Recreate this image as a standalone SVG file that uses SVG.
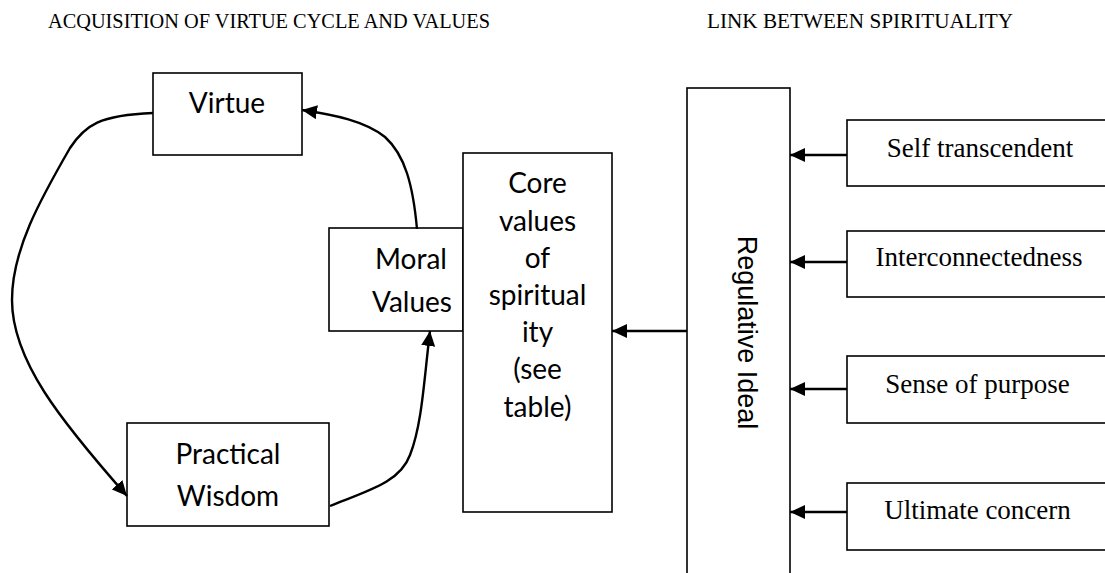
<svg xmlns="http://www.w3.org/2000/svg" width="1105" height="573" viewBox="0 0 1105 573">
<style>
.box{fill:#fff;stroke:#000;stroke-width:1.6}
.cal{font-family:Lato,"Open Sans",sans-serif;font-size:28px;fill:#000;text-anchor:middle}
.tnr{font-family:"Liberation Serif","Times New Roman",serif;font-size:27px;fill:#000;text-anchor:middle}
.title{font-family:"Liberation Serif","Times New Roman",serif;font-size:22px;fill:#000}
.conn{fill:none;stroke:#000;stroke-width:2.4}
</style>
<defs>
<marker id="arr" markerUnits="userSpaceOnUse" markerWidth="16" markerHeight="14" refX="15" refY="7" orient="auto">
<path d="M0,0 L15,7 L0,14 z" fill="#000"/>
</marker>
</defs>
<rect width="1105" height="573" fill="#fff"/>
<text class="title" x="48" y="28" textLength="442" lengthAdjust="spacingAndGlyphs">ACQUISITION OF VIRTUE CYCLE AND VALUES</text>
<text class="title" x="707" y="28" textLength="306" lengthAdjust="spacingAndGlyphs">LINK BETWEEN SPIRITUALITY</text>

<g id="virtue">
<rect class="box" x="153" y="73" width="149" height="82"/>
<text class="cal" x="227" y="113">Virtue</text>
</g>
<g id="moral-values">
<rect class="box" x="329" y="228" width="134" height="103"/>
<text class="cal" x="411" y="269">Moral</text>
<text class="cal" x="412" y="312">Values</text>
</g>
<g id="practical-wisdom">
<rect class="box" x="127" y="423" width="202" height="103"/>
<text class="cal" x="228" y="464">Practical</text>
<text class="cal" x="228" y="506">Wisdom</text>
</g>
<g id="core-values">
<rect class="box" x="463" y="153" width="149" height="359"/>
<text class="cal" x="537.5" y="193">Core</text>
<text class="cal" x="537.5" y="231">values</text>
<text class="cal" x="537.5" y="268">of</text>
<text class="cal" x="537.5" y="305">spiritual</text>
<text class="cal" x="537.5" y="342">ity</text>
<text class="cal" x="537.5" y="379">(see</text>
<text class="cal" x="537.5" y="417">table)</text>
</g>
<g id="regulative-ideal">
<rect class="box" x="687" y="88" width="103" height="500"/>
<text transform="translate(738,332.5) rotate(90)" font-family="'Liberation Sans',Arial,sans-serif" font-size="27" text-anchor="middle" fill="#000">Regulative Ideal</text>
</g>
<g id="self-transcendent">
<rect class="box" x="847" y="120" width="280" height="66"/>
<text class="tnr" x="980" y="157">Self transcendent</text>
</g>
<g id="interconnectedness">
<rect class="box" x="847" y="231" width="280" height="66"/>
<text class="tnr" x="979" y="266">Interconnectedness</text>
</g>
<g id="sense-of-purpose">
<rect class="box" x="847" y="356" width="280" height="67"/>
<text class="tnr" x="977.5" y="393">Sense of purpose</text>
</g>
<g id="ultimate-concern">
<rect class="box" x="847" y="483" width="280" height="67"/>
<text class="tnr" x="977.5" y="519">Ultimate concern</text>
</g>

<g id="connectors">
<path class="conn" d="M153,113 C100,115 85,125 70,148 C40,200 12,250 12,300 C12,360 60,420 127,496" marker-end="url(#arr)"/>
<path class="conn" d="M417,229 C413,185 405,155 385,137 C365,121 335,115 302,110" marker-end="url(#arr)"/>
<path class="conn" d="M330,506 C370,490 400,482 410,455 C422,425 424,380 430,331" marker-end="url(#arr)"/>
<line class="conn" x1="687" y1="331" x2="612" y2="331" marker-end="url(#arr)"/>
<line class="conn" x1="847" y1="155" x2="790" y2="155" marker-end="url(#arr)"/>
<line class="conn" x1="847" y1="262" x2="790" y2="262" marker-end="url(#arr)"/>
<line class="conn" x1="847" y1="389" x2="790" y2="389" marker-end="url(#arr)"/>
<line class="conn" x1="847" y1="512" x2="790" y2="512" marker-end="url(#arr)"/>
</g>
</svg>
